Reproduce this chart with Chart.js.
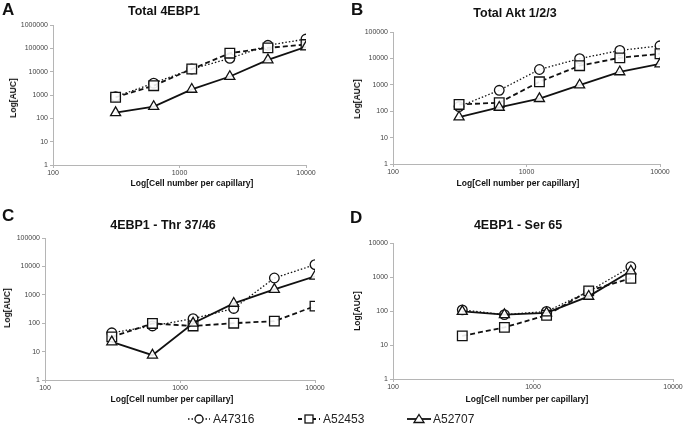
<!DOCTYPE html>
<html>
<head>
<meta charset="utf-8">
<script src="https://cdn.jsdelivr.net/npm/chart.js@4.4.1/dist/chart.umd.min.js"></script>
<style>
  body { margin: 0; background: #fff; font-family: 'Liberation Sans', Arial, sans-serif; }
  #page { position: relative; width: 685px; height: 426px; overflow: hidden; }
  canvas { position: absolute; }
  .lbl { position: absolute; white-space: nowrap; color: #111; }
  .letter { font-weight: bold; font-size: 17px; }
  .ptitle { font-weight: bold; font-size: 12.5px; transform: translate(-50%, -50%); }
  .xtitle { font-weight: bold; font-size: 8.5px; transform: translate(-50%, -50%); }
  .ytitle { font-weight: bold; font-size: 8.5px; transform: translate(-50%, -50%) rotate(-90deg); }
  .leg { position: absolute; font-size: 12px; color: #222; display: flex; align-items: center; transform: translateY(-50%); }
  .leg svg { margin-right: 1px; }
</style>
</head>
<body>
<div id="page"></div>
<script>
// cell numbers per capillary (x) and the three lots
const cellNumbers = [312.5, 625, 1250, 2500, 5000, 10000];
const seriesNames = ['A47316', 'A52453', 'A52707'];
const xTicks = [100, 1000, 10000];

// Total 4EBP1
const a_A47316 = [850, 3200, 13000, 37000, 135000, 250000];
const a_A52453 = [800, 2500, 13000, 62000, 105000, 145000];
const a_A52707 = [175, 320, 1750, 6200, 32000, 115000];
const a_yTicks = [1, 10, 100, 1000, 10000, 100000, 1000000];

// Total Akt 1/2/3
const b_A47316 = [150, 620, 3800, 9800, 20000, 30000];
const b_A52453 = [180, 210, 1300, 5300, 10500, 15000];
const b_A52707 = [60, 140, 300, 980, 3100, 6200];
const b_yTicks = [1, 10, 100, 1000, 10000, 100000];

// 4EBP1 - Thr 37/46
const c_A47316 = [46, 80, 145, 330, 3900, 11500];
const c_A52453 = [33, 98, 80, 100, 118, 400];
const c_A52707 = [22, 7.5, 100, 500, 1550, 4500];
const c_yTicks = [1, 10, 100, 1000, 10000, 100000];

// 4EBP1 - Ser 65 (five dilutions only)
const d_A47316 = [108, 78, 97, 375, 2000];
const d_A52453 = [18.5, 33, 75, 390, 920];
const d_A52707 = [97, 78, 88, 270, 1500];
const d_yTicks = [1, 10, 100, 1000, 10000];

const styles = [
  { dash: [1.5, 2], width: 1.3, point: 'circle', radius: 4.8 },
  { dash: [5, 3], width: 1.8, point: 'rect', radius: 6.8 },
  { dash: [], width: 1.8, point: 'triangle', radius: 5.8 }
];

const panels = [
  { letter: 'A', title: 'Total 4EBP1', data: [a_A47316, a_A52453, a_A52707], yTicks: a_yTicks,
    box: [0, 0, 340, 200], area: [53, 25, 306, 165],
    letterPos: [2, 0], titlePos: [164, 11], xtPos: [192, 183], ytPos: [13, 98] },
  { letter: 'B', title: 'Total Akt 1/2/3', data: [b_A47316, b_A52453, b_A52707], yTicks: b_yTicks,
    box: [340, 0, 345, 200], area: [393, 32, 660, 164],
    letterPos: [351, 0], titlePos: [515, 13], xtPos: [518, 183], ytPos: [357, 99] },
  { letter: 'C', title: '4EBP1 - Thr 37/46', data: [c_A47316, c_A52453, c_A52707], yTicks: c_yTicks,
    box: [0, 200, 340, 200], area: [45, 238, 315, 380],
    letterPos: [2, 206], titlePos: [163, 225], xtPos: [172, 399], ytPos: [7, 308] },
  { letter: 'D', title: '4EBP1 - Ser 65', data: [d_A47316, d_A52453, d_A52707], yTicks: d_yTicks,
    box: [340, 200, 345, 200], area: [393, 243, 673, 379],
    letterPos: [350, 208], titlePos: [518, 225], xtPos: [527, 399], ytPos: [357, 311] }
];

const page = document.getElementById('page');

function addLabel(cls, text, x, y) {
  const d = document.createElement('div');
  d.className = 'lbl ' + cls;
  d.textContent = text;
  d.style.left = x + 'px';
  d.style.top = y + 'px';
  page.appendChild(d);
}

const tickFont = { family: "'Liberation Sans', Arial, sans-serif", size: 7 };

panels.forEach(p => {
  const [bx, by, bw, bh] = p.box;
  const [l, t, r, b] = p.area;
  const cv = document.createElement('canvas');
  cv.width = bw; cv.height = bh;
  cv.style.left = bx + 'px'; cv.style.top = by + 'px';
  cv.style.width = bw + 'px'; cv.style.height = bh + 'px';
  page.appendChild(cv);

  const datasets = p.data.map((vals, i) => ({
    label: seriesNames[i],
    data: vals.map((v, k) => ({ x: cellNumbers[k], y: v })),
    borderColor: '#111',
    borderWidth: styles[i].width,
    borderDash: styles[i].dash,
    pointStyle: styles[i].point,
    pointRadius: styles[i].radius,
    pointBorderWidth: 1.3,
    pointBackgroundColor: 'rgba(255,255,255,0.9)',
    pointBorderColor: '#111',
    tension: 0
  }));
  // draw A52707 first so the other markers sit on top like the original
  datasets.reverse();

  new Chart(cv.getContext('2d'), {
    type: 'line',
    data: { datasets },
    options: {
      responsive: false,
      animation: false,
      layout: { padding: { left: 0, top: t - by, right: bx + bw - r, bottom: 0 } },
      plugins: { legend: { display: false }, tooltip: { enabled: false } },
      scales: {
        x: {
          type: 'logarithmic', min: 100, max: 10000,
          afterBuildTicks: s => { s.ticks = xTicks.map(v => ({ value: v })); },
          afterFit: s => { s.height = by + bh - b; },
          ticks: { font: tickFont, color: '#444', padding: 1, autoSkip: false, maxRotation: 0,
                   callback: v => String(v) },
          grid: { drawOnChartArea: false, tickLength: 3, color: '#b5b5b5' },
          border: { color: '#b5b5b5' }
        },
        y: {
          type: 'logarithmic', min: 1, max: p.yTicks[p.yTicks.length - 1],
          afterBuildTicks: s => { s.ticks = p.yTicks.map(v => ({ value: v })); },
          afterFit: s => { s.width = l - bx; },
          ticks: { font: tickFont, color: '#444', padding: 2, autoSkip: false,
                   callback: v => String(v) },
          grid: { drawOnChartArea: false, tickLength: 3, color: '#b5b5b5' },
          border: { color: '#b5b5b5' }
        }
      }
    }
  });

  addLabel('letter', p.letter, p.letterPos[0], p.letterPos[1]);
  addLabel('ptitle', p.title, p.titlePos[0], p.titlePos[1]);
  addLabel('xtitle', 'Log[Cell number per capillary]', p.xtPos[0], p.xtPos[1]);
  addLabel('ytitle', 'Log[AUC]', p.ytPos[0], p.ytPos[1]);
});

// shared legend at the bottom
const legendX = [187, 297, 407];
const markerSvg = [
  '<line x1="1" y1="6" x2="23" y2="6" stroke="#111" stroke-width="1.3" stroke-dasharray="1.5,2"/><circle cx="12" cy="6" r="4" fill="#fff" stroke="#111" stroke-width="1.3"/>',
  '<line x1="1" y1="6" x2="23" y2="6" stroke="#111" stroke-width="1.8" stroke-dasharray="4,3"/><rect x="8" y="2" width="8" height="8" fill="#fff" stroke="#111" stroke-width="1.3"/>',
  '<line x1="0" y1="6" x2="24" y2="6" stroke="#111" stroke-width="1.8"/><path d="M12 1.5 L17 9.5 L7 9.5 Z" fill="#fff" stroke="#111" stroke-width="1.3"/>'
];
seriesNames.forEach((name, i) => {
  const d = document.createElement('div');
  d.className = 'leg';
  d.style.left = legendX[i] + 'px';
  d.style.top = '419px';
  d.innerHTML = '<svg width="25" height="12">' + markerSvg[i] + '</svg><span>' + name + '</span>';
  page.appendChild(d);
});
</script>
</body>
</html>
